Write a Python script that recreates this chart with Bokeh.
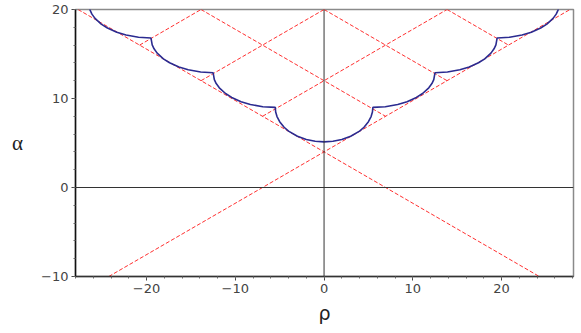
from bokeh.plotting import figure
from bokeh.models import Range1d, FixedTicker, Span, Label
from bokeh.embed import file_html
from bokeh.resources import INLINE

# ---- data ----
# dashed red straight lines (endpoints in data units: rho, alpha)
line_rho0 = [-27.71, -24.25, -6.93, -13.86, -13.86, 0.0, -20.78, 13.86]
line_alpha0 = [20.0, -10.0, 8.0, 20.0, 12.0, 20.0, 16.0, 20.0]
line_rho1 = [24.25, 27.71, 13.86, 6.93, 0.0, 13.86, -13.86, 20.78]
line_alpha1 = [-10.0, 20.0, 20.0, 8.0, 20.0, 12.0, 20.0, 16.0]

# blue scalloped curve
curve_rho = [
    -26.5, -26.36, -26.15, -25.8, -25.1, -24.4, -23.35, -22.3, -20.9, -19.5,
    -19.36, -19.15, -18.8, -18.1, -17.4, -16.35, -15.3, -13.9, -12.5,
    -12.36, -12.15, -11.8, -11.1, -10.4, -9.35, -8.3, -6.9, -5.5,
    -5.45, -5.3, -5.0, -4.5, -4.0, -3.0, -2.0, -1.0, 0.0,
    1.0, 2.0, 3.0, 4.0, 4.5, 5.0, 5.3, 5.45, 5.5,
    6.9, 8.3, 9.35, 10.4, 11.1, 11.8, 12.15, 12.36, 12.5,
    13.9, 15.3, 16.35, 17.4, 18.1, 18.8, 19.15, 19.36, 19.5,
    20.9, 22.3, 23.35, 24.4, 25.1, 25.8, 26.15, 26.36, 26.5,
]
curve_alpha = [
    20.7, 19.92, 19.48, 19.0, 18.36, 17.92, 17.44, 17.13, 16.88, 16.8,
    16.02, 15.58, 15.1, 14.46, 14.02, 13.54, 13.23, 12.98, 12.9,
    12.12, 11.68, 11.2, 10.56, 10.12, 9.64, 9.33, 9.08, 9.0,
    8.48, 7.97, 7.39, 6.77, 6.34, 5.76, 5.39, 5.19, 5.13,
    5.19, 5.39, 5.76, 6.34, 6.77, 7.39, 7.97, 8.48, 9.0,
    9.08, 9.33, 9.64, 10.12, 10.56, 11.2, 11.68, 12.12, 12.9,
    12.98, 13.23, 13.54, 14.02, 14.46, 15.1, 15.58, 16.02, 16.8,
    16.88, 17.13, 17.44, 17.92, 18.36, 19.0, 19.48, 19.92, 20.7,
]

x_ticks = [-20, -10, 0, 10, 20]
x_tick_labels = ["\u221220", "\u221210", "0", "10", "20"]
y_ticks = [-10, 0, 10, 20]
y_tick_labels = ["\u221210", "0", "10", "20"]
x_minor = list(range(-28, 29, 2))
y_minor = list(range(-10, 21, 2))

FONT = "DejaVu Sans"

p = figure(
    frame_width=498, frame_height=267,
    x_range=Range1d(-28, 28.1), y_range=Range1d(-10, 20),
    output_backend="svg", toolbar_location=None,
    min_border_left=75, min_border_right=6, min_border_top=9, min_border_bottom=55,
    background_fill_color="white", border_fill_color="white",
)
p.xgrid.visible = False
p.ygrid.visible = False
p.outline_line_color = "#8a8a8a"
p.outline_line_width = 1.5

# zero lines
p.add_layout(Span(location=0, dimension="height", line_color="#333333", line_width=1))
p.add_layout(Span(location=0, dimension="width", line_color="#333333", line_width=1))

p.segment(x0=line_rho0, y0=line_alpha0, x1=line_rho1, y1=line_alpha1,
          line_color="#ff3030", line_width=1, line_dash="4 2")

p.line(curve_rho, curve_alpha, line_color="#2b2b90", line_width=1.6)

for ax, ticks, labels, minor in ((p.xaxis[0], x_ticks, x_tick_labels, x_minor),
                                 (p.yaxis[0], y_ticks, y_tick_labels, y_minor)):
    ax.ticker = FixedTicker(ticks=ticks, minor_ticks=minor)
    ax.major_label_overrides = {t: l for t, l in zip(ticks, labels)}
    ax.major_tick_out = 4
    ax.major_tick_in = 0
    ax.minor_tick_out = 2
    ax.minor_tick_in = 0
    ax.major_label_standoff = 3
    ax.major_label_text_font = FONT
    ax.major_label_text_font_size = "13px"
    ax.major_label_text_color = "#444444"
    ax.axis_line_width = 1.5
    ax.major_tick_line_color = "#444444"
    ax.minor_tick_line_color = "#666666"

p.yaxis.axis_line_color = "#111111"
p.xaxis.axis_line_color = "#333333"

p.xaxis.axis_label = "\u03c1"
p.xaxis.axis_label_text_font = FONT
p.xaxis.axis_label_text_font_style = "normal"
p.xaxis.axis_label_text_font_size = "19px"
p.xaxis.axis_label_text_color = "#222222"
p.xaxis.axis_label_standoff = 6

yax = p.yaxis[0]
if "axis_label_orientation" in yax.properties():
    yax.axis_label = "\u03b1"
    yax.axis_label_orientation = "horizontal"
    yax.axis_label_text_font = "Liberation Serif"
    yax.axis_label_text_font_style = "normal"
    yax.axis_label_text_font_size = "21px"
    yax.axis_label_text_color = "#222222"
    yax.axis_label_standoff = 15
else:
    p.add_layout(Label(x=19, y=186, x_units="screen", y_units="screen", text="\u03b1",
                       text_font="Liberation Serif", text_font_size="21px",
                       text_color="#222222", text_align="center",
                       text_baseline="middle"))

open("out.html", "w").write(file_html(p, INLINE))
